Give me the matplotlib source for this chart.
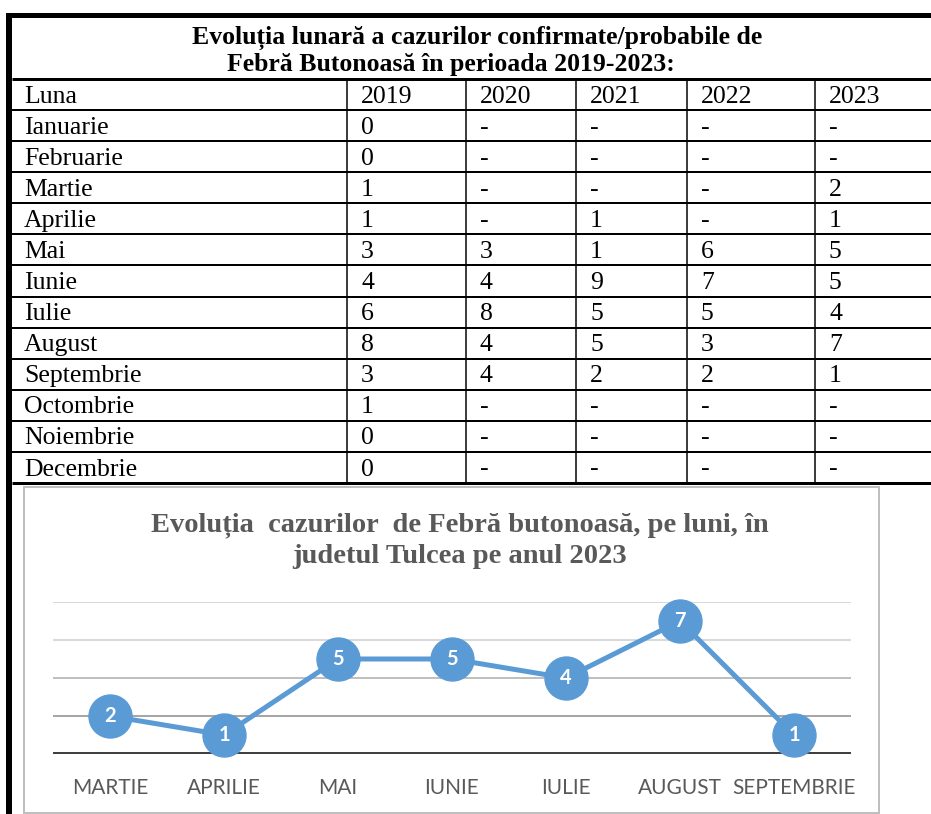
import matplotlib
matplotlib.use("Agg")
import matplotlib.pyplot as plt
from matplotlib.patches import Rectangle

# table data
header = ["Luna", "2019", "2020", "2021", "2022", "2023"]
months = ["Ianuarie", "Februarie", "Martie", "Aprilie", "Mai", "Iunie", "Iulie",
          "August", "Septembrie", "Octombrie", "Noiembrie", "Decembrie"]
y2019 = ["0", "0", "1", "1", "3", "4", "6", "8", "3", "1", "0", "0"]
y2020 = ["-", "-", "-", "-", "3", "4", "8", "4", "4", "-", "-", "-"]
y2021 = ["-", "-", "-", "1", "1", "9", "5", "5", "2", "-", "-", "-"]
y2022 = ["-", "-", "-", "-", "6", "7", "5", "3", "2", "-", "-", "-"]
y2023 = ["-", "-", "2", "1", "5", "5", "4", "7", "1", "-", "-", "-"]

table_title = ["Evoluția lunară a cazurilor confirmate/probabile de",
               "Febră Butonoasă în perioada 2019-2023:"]

# chart data (2023)
chart_months = ["MARTIE", "APRILIE", "MAI", "IUNIE", "IULIE", "AUGUST", "SEPTEMBRIE"]
cases_2023 = [2, 1, 5, 5, 4, 7, 1]
chart_title = "Evoluția  cazurilor  de Febră butonoasă, pe luni, în\njudetul Tulcea pe anul 2023"

W, H = 931, 814
fig = plt.figure(figsize=(W / 100, H / 100), dpi=100)
fig.patch.set_facecolor("white")

# background axes in pixel coordinates for the table
ax0 = fig.add_axes([0, 0, 1, 1])
ax0.set_xlim(0, W)
ax0.set_ylim(H, 0)
ax0.axis("off")

px = 0.72  # points per pixel
serif = "Liberation Serif"

# outer thick borders
ax0.add_patch(Rectangle((6, 13), 6, H - 13, color="black", lw=0))
ax0.add_patch(Rectangle((6, 13), W - 6, 5, color="black", lw=0))

# title of table
ax0.text(477, 38, table_title[0], ha="center", va="center", fontsize=18.5,
         fontweight="bold", family=serif)
ax0.text(451, 64, table_title[1], ha="center", va="center", fontsize=18.5,
         fontweight="bold", family=serif)

# grid of table
row_top = 79
row_h = 31.08
n_rows = len(months) + 1
col_lines = [347, 466, 576, 687, 815]
text_x = [24] + [c + 14 for c in col_lines]

for i in range(n_rows + 1):
    y = row_top + i * row_h
    lw = 3 if i in (0, n_rows) else 2
    ax0.plot([12, W], [y, y], color="black", lw=lw * px, solid_capstyle="butt")
for c in col_lines:
    ax0.plot([c, c], [row_top, row_top + n_rows * row_h], color="black",
             lw=1.5 * px, solid_capstyle="butt")

columns = [months, y2019, y2020, y2021, y2022, y2023]
for j, h in enumerate(header):
    ax0.text(text_x[j], row_top + row_h / 2 + 2, h, ha="left", va="center",
             fontsize=18.5, family=serif)
for i in range(len(months)):
    yc = row_top + (i + 1.5) * row_h + 2
    for j, col in enumerate(columns):
        ax0.text(text_x[j], yc, col[i], ha="left", va="center",
                 fontsize=18.5, family=serif)

# chart frame
ax0.add_patch(Rectangle((24, 487), 855, 326, fill=False, edgecolor="#bfbfbf",
                        lw=2 * px))
ax0.text(460, 541, chart_title, ha="center", va="center", fontsize=20.5,
         fontweight="bold", family=serif, color="#595959", linespacing=1.3)

# line chart
ax = fig.add_axes([53 / W, (H - 754) / H, 798 / W, 152 / H])
ax.set_facecolor("none")
ax.set_xlim(0, len(chart_months))
ax.set_ylim(0, 8)
for s in ax.spines.values():
    s.set_visible(False)

grid_colors = {2: "#a6a6a6", 4: "#bfbfbf", 6: "#d9d9d9", 8: "#d9d9d9"}
for yv, c in grid_colors.items():
    ax.axhline(yv, color=c, lw=2 * px, zorder=1)
ax.axhline(0, color="#404040", lw=4 * px, zorder=1)

xs = [i + 0.5 for i in range(len(chart_months))]
ax.plot(xs, cases_2023, color="#5b9bd5", lw=5 * px, marker="o",
        markersize=43 * px, markerfacecolor="#5b9bd5", markeredgecolor="#5b9bd5",
        zorder=3, clip_on=False)
for x, v in zip(xs, cases_2023):
    ax.text(x, v, str(v), ha="center", va="center", color="white",
            fontsize=14.5, fontweight="bold", family="Lato", zorder=4)

ax.set_xticks(xs)
ax.set_xticklabels(chart_months, family="Lato", fontsize=15, color="#595959")
ax.tick_params(axis="x", length=0, pad=17)
ax.set_yticks([])

fig.savefig("out.png", dpi=100)
